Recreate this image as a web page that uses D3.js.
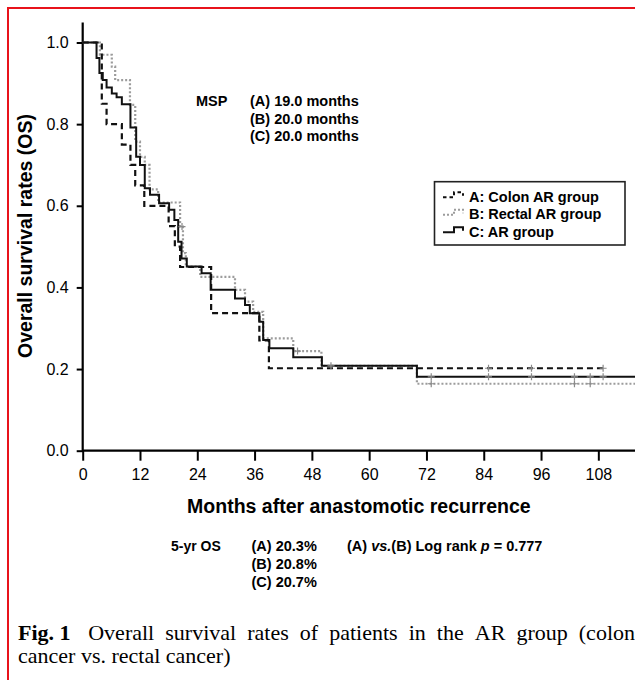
<!DOCTYPE html>
<html><head><meta charset="utf-8">
<script src="https://cdn.jsdelivr.net/npm/d3@7/dist/d3.min.js"></script>
<style>
html,body{margin:0;padding:0;background:#fff;}
svg{display:block;}
</style></head>
<body>
<svg id="chart" width="635" height="680"></svg>
<script>
// ---------- data ----------
const monthsA = [0, 4, 5, 8.2, 10, 11, 12.9, 18, 19.3, 20.4, 26.9, 37, 39];
const survA   = [1.0, 0.85, 0.80, 0.75, 0.70, 0.65, 0.60, 0.55, 0.50, 0.45, 0.337, 0.27, 0.202];
const endA = 109.4;
const censorA = [85, 94, 109];

const monthsB = [0, 3.6, 6.1, 6.8, 9.9, 11, 12, 13, 14, 15.8, 20.4, 21, 21.6, 24.6, 31.9, 34, 35.7, 37.8, 44.1, 50, 70];
const survB   = [1.0, 0.97, 0.941, 0.908, 0.847, 0.757, 0.72, 0.70, 0.64, 0.608, 0.549, 0.484, 0.451, 0.426, 0.394, 0.365, 0.34, 0.275, 0.244, 0.208, 0.164];
const endB = 118;
const censorB = [20.8, 45, 52, 73, 103, 106.3];

const monthsC = [0, 2.9, 3.5, 4.2, 5, 6.1, 7.1, 8.2, 10, 11.2, 12, 13, 14.1, 16, 18.1, 19.2, 20, 20.7, 21.8, 24.9, 26.8, 31.9, 34, 35, 37, 37.8, 39.1, 44.1, 50.1, 70];
const survC   = [1.0, 0.962, 0.925, 0.908, 0.89, 0.875, 0.866, 0.849, 0.792, 0.72, 0.70, 0.643, 0.627, 0.606, 0.59, 0.565, 0.512, 0.471, 0.451, 0.435, 0.394, 0.373, 0.357, 0.337, 0.316, 0.271, 0.251, 0.229, 0.208, 0.181];
const endC = 118;
const censorC = [73, 85, 94, 103, 106.3, 109];

const xTicks = [0, 12, 24, 36, 48, 60, 72, 84, 96, 108];
const yTicks = [0.0, 0.2, 0.4, 0.6, 0.8, 1.0];

const legendLabels = ["A: Colon AR group", "B: Rectal AR group", "C: AR group"];
const mspLabels = ["(A) 19.0 months", "(B) 20.0 months", "(C) 20.0 months"];
const osLabels = ["(A) 20.3%", "(B) 20.8%", "(C) 20.7%"];
const captionLine1 = ["Overall", "survival", "rates", "of", "patients", "in", "the", "AR", "group", "(colon"];
const captionLine2 = "cancer vs. rectal cancer)";

// ---------- drawing ----------
const svg = d3.select("#chart");
const SANS = "'Liberation Sans', Arial, Helvetica, sans-serif";
const SERIF = "'Liberation Serif', 'Times New Roman', Times, serif";

svg.append("rect").attr("width",635).attr("height",680).attr("fill","#fff");

// red frame
svg.append("path").attr("d","M8,690 V8 H650").attr("fill","none")
  .attr("stroke","#e8131b").attr("stroke-width",2);

const x = d3.scaleLinear().domain([0,120]).range([82.7, 82.7 + 120*4.7744]);
const y = d3.scaleLinear().domain([0,1]).range([450.7, 42.5]);

// axes
const gx = svg.append("g").attr("transform",`translate(0,${y(0)})`)
  .call(d3.axisBottom(x).tickValues(xTicks).tickSize(10).tickPadding(8).tickFormat(d3.format("d")));
const gy = svg.append("g").attr("transform",`translate(${x(0)},0)`)
  .call(d3.axisLeft(y).tickValues(yTicks).tickSize(6).tickPadding(8).tickFormat(d3.format(".1f")));
[gx,gy].forEach(g=>{
  g.select(".domain").remove();
  g.selectAll(".tick line").attr("stroke","#000").attr("stroke-width",2);
  g.selectAll(".tick text").attr("fill","#000").style("font-family",SANS).style("font-size","16px");
});
gx.selectAll(".tick text").attr("dy","0.71em");
// axis lines
svg.append("line").attr("x1",x(0)).attr("x2",640).attr("y1",y(0)).attr("y2",y(0))
  .attr("stroke","#000").attr("stroke-width",2.2);
svg.append("line").attr("x1",x(0)).attr("x2",x(0)).attr("y1",22.5).attr("y2",y(0)+1)
  .attr("stroke","#000").attr("stroke-width",2.2);

// curves
function stepPts(ms, ss, end){
  const pts = ms.map((m,i)=>[m, ss[i]]);
  pts.push([end, ss[ss.length-1]]);
  return pts;
}
function survAt(ms, ss, t){
  let v = ss[0];
  for(let i=0;i<ms.length;i++){ if(ms[i] <= t) v = ss[i]; }
  return v;
}
const line = d3.line().x(d=>x(d[0])).y(d=>y(d[1])).curve(d3.curveStepAfter);

const series = [
  {ms:monthsB, ss:survB, end:endB, cens:censorB, stroke:"#9c9c9c", dash:"2,2", w:2.2},
  {ms:monthsA, ss:survA, end:endA, cens:censorA, stroke:"#111", dash:"6,4", w:2.2},
  {ms:monthsC, ss:survC, end:endC, cens:censorC, stroke:"#111", dash:null, w:2}
];
series.forEach(s=>{
  svg.append("path").attr("d", line(stepPts(s.ms,s.ss,s.end)))
    .attr("fill","none").attr("stroke",s.stroke).attr("stroke-width",s.w)
    .attr("stroke-dasharray",s.dash);
});
// censor marks
series.forEach(s=>{
  s.cens.forEach(t=>{
    const cx = x(t), cy = y(survAt(s.ms,s.ss,t));
    svg.append("path").attr("d",`M${cx-3.5},${cy} H${cx+3.5} M${cx},${cy-3.5} V${cy+3.5}`)
      .attr("stroke","#8a8a8a").attr("stroke-width",1.2).attr("fill","none");
  });
});

// axis titles
svg.append("text").attr("x", (x(0)+635)/2).attr("y",513).attr("text-anchor","middle")
  .style("font-family",SANS).style("font-weight","bold").style("font-size","19.5px")
  .text("Months after anastomotic recurrence");
svg.append("text").attr("transform","translate(31.5,236) rotate(-90)").attr("text-anchor","middle")
  .style("font-family",SANS).style("font-weight","bold").style("font-size","19.5px")
  .text("Overall survival rates (OS)");

// MSP block
svg.append("text").attr("x",196).attr("y",106)
  .style("font-family",SANS).style("font-weight","bold").style("font-size","14.5px").text("MSP");
mspLabels.forEach((t,i)=>{
  svg.append("text").attr("x",250).attr("y",106 + i*17.5)
    .style("font-family",SANS).style("font-weight","bold").style("font-size","14.5px").text(t);
});

// legend
svg.append("rect").attr("x",434.5).attr("y",181.7).attr("width",190.5).attr("height",63.3)
  .attr("fill","#fff").attr("stroke","#222").attr("stroke-width",1.6);
const legStyles = [
  {stroke:"#111", dash:"3.5,3", w:2},
  {stroke:"#9c9c9c", dash:"2,2", w:2},
  {stroke:"#111", dash:null, w:2}
];
legendLabels.forEach((t,i)=>{
  const b = 201.7 + i*17.5;
  svg.append("path").attr("d",`M443,${b-4.5} H454 V${b-9.5} H463 V${b-6}`)
    .attr("fill","none").attr("stroke",legStyles[i].stroke).attr("stroke-width",legStyles[i].w)
    .attr("stroke-dasharray",legStyles[i].dash);
  svg.append("text").attr("x",469).attr("y",b)
    .style("font-family",SANS).style("font-weight","bold").style("font-size","14.5px").text(t);
});

// 5-yr OS block
svg.append("text").attr("x",171).attr("y",551)
  .style("font-family",SANS).style("font-weight","bold").style("font-size","14px").text("5-yr OS");
osLabels.forEach((t,i)=>{
  svg.append("text").attr("x",251.5).attr("y",551 + i*18)
    .style("font-family",SANS).style("font-weight","bold").style("font-size","14.5px").text(t);
});
const lr = svg.append("text").attr("x",347).attr("y",551)
  .style("font-family",SANS).style("font-weight","bold").style("font-size","14.5px");
lr.append("tspan").text("(A) ");
lr.append("tspan").style("font-style","italic").text("vs.");
lr.append("tspan").text("(B) Log rank ");
lr.append("tspan").style("font-style","italic").text("p");
lr.append("tspan").text(" = 0.777");

// caption (justified first line)
const capY1 = 640, capY2 = 663, capL = 18, capR = 635, capFS = "22px";
const figT = svg.append("text").attr("x",capL).attr("y",capY1)
  .style("font-family",SERIF).style("font-weight","bold").style("font-size",capFS).text("Fig. 1");
const words = captionLine1.map(w => svg.append("text").attr("y",capY1)
  .style("font-family",SERIF).style("font-size",capFS).text(w));
const figW = figT.node().getComputedTextLength();
const ws = words.map(w=>w.node().getComputedTextLength());
const total = figW + d3.sum(ws);
const gap = (capR - capL - total) / (words.length + 0.6);
let cx = capL + figW + gap*1.6;
words.forEach((w,i)=>{ w.attr("x",cx); cx += ws[i] + gap; });
svg.append("text").attr("x",capL).attr("y",capY2)
  .style("font-family",SERIF).style("font-size",capFS).text(captionLine2);
</script>
</body></html>
